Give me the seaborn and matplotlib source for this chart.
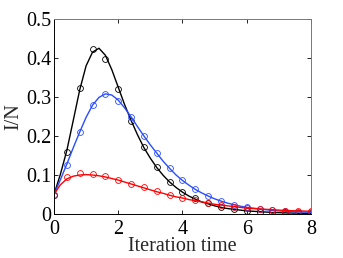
import numpy as np
import pandas as pd
import seaborn as sns
import matplotlib
matplotlib.use("Agg")
import matplotlib.pyplot as plt
from matplotlib.ticker import FuncFormatter

# simulation points (markers), every 0.4
t_sim = [0.0, 0.4, 0.8, 1.2, 1.6, 2.0, 2.4, 2.8, 3.2, 3.6, 4.0,
         4.4, 4.8, 5.2, 5.6, 6.0, 6.4, 6.8, 7.2, 7.6, 8.0]
black_sim = [0.05, 0.16, 0.322, 0.422, 0.398, 0.32, 0.239, 0.171, 0.12, 0.083, 0.056,
             0.041, 0.027, 0.019, 0.013, 0.009, 0.006, 0.005, 0.004, 0.003, 0.002]
blue_sim = [0.05, 0.126, 0.211, 0.279, 0.307, 0.291, 0.248, 0.2, 0.156, 0.117, 0.086,
            0.064, 0.047, 0.033, 0.024, 0.018, 0.013, 0.01, 0.008, 0.006, 0.005]
red_sim = [0.05, 0.096, 0.106, 0.103, 0.097, 0.087, 0.077, 0.068, 0.058, 0.048, 0.042,
           0.035, 0.029, 0.024, 0.019, 0.015, 0.013, 0.011, 0.009, 0.008, 0.007]

# model curves (lines), every 0.2
t_mod = [0.0, 0.2, 0.4, 0.6, 0.8, 1.0, 1.2, 1.4, 1.6, 1.8, 2.0,
         2.2, 2.4, 2.6, 2.8, 3.0, 3.2, 3.4, 3.6, 3.8, 4.0,
         4.2, 4.4, 4.6, 4.8, 5.0, 5.2, 5.4, 5.6, 5.8, 6.0,
         6.2, 6.4, 6.6, 6.8, 7.0, 7.2, 7.4, 7.6, 7.8, 8.0]
black_mod = [0.05, 0.102, 0.163, 0.24, 0.318, 0.38, 0.415, 0.425, 0.407, 0.37, 0.325,
             0.28, 0.24, 0.203, 0.17, 0.143, 0.119, 0.099, 0.082, 0.068, 0.056,
             0.046, 0.038, 0.031, 0.026, 0.021, 0.017, 0.014, 0.012, 0.010, 0.008,
             0.007, 0.006, 0.005, 0.004, 0.0035, 0.003, 0.0025, 0.002, 0.0018, 0.0015]
blue_mod = [0.05, 0.088, 0.128, 0.17, 0.21, 0.248, 0.279, 0.299, 0.308, 0.305, 0.292,
            0.272, 0.249, 0.224, 0.2, 0.177, 0.156, 0.135, 0.117, 0.1, 0.086,
            0.074, 0.063, 0.054, 0.046, 0.039, 0.033, 0.028, 0.024, 0.02, 0.017,
            0.015, 0.013, 0.011, 0.0095, 0.008, 0.007, 0.006, 0.0055, 0.005, 0.0045]
red_mod = [0.05, 0.075, 0.09, 0.097, 0.1, 0.101, 0.1, 0.098, 0.095, 0.091, 0.087,
           0.082, 0.077, 0.072, 0.067, 0.062, 0.057, 0.053, 0.048, 0.044, 0.041,
           0.037, 0.034, 0.031, 0.028, 0.025, 0.023, 0.021, 0.019, 0.017, 0.015,
           0.014, 0.013, 0.012, 0.011, 0.01, 0.009, 0.0085, 0.008, 0.0075, 0.007]

colors = {"black": "#000000", "blue": "#2a4dff", "red": "#ff0000"}

sns.set_theme(style="ticks")
plt.rcParams["font.family"] = ["Liberation Serif", "DejaVu Serif"]
plt.rcParams["xtick.direction"] = "in"
plt.rcParams["ytick.direction"] = "in"

fig = plt.figure(figsize=(3.43, 2.58), dpi=100)
ax = fig.add_axes([0.1574, 0.1705, 0.7493, 0.7559])

series = [("black", black_mod, black_sim), ("blue", blue_mod, blue_sim), ("red", red_mod, red_sim)]
for name, mod, sim in series:
    c = colors[name]
    sns.lineplot(x=t_mod, y=mod, ax=ax, color=c, linewidth=1.0, sort=False)
    sns.lineplot(x=t_sim, y=sim, ax=ax, color=c, linestyle="", marker="o",
                 markersize=4.2, markerfacecolor="none", markeredgecolor=c,
                 markeredgewidth=0.6, sort=False)

ax.set_xlim(0, 8)
ax.set_ylim(0, 0.5)
ax.set_xticks([0, 2, 4, 6, 8])
ax.set_yticks([0, 0.1, 0.2, 0.3, 0.4, 0.5])
ax.yaxis.set_major_formatter(FuncFormatter(lambda v, p: "%g" % round(v, 2)))
ax.tick_params(axis="both", which="both", direction="in", length=3, width=0.6,
               top=True, right=True, labelsize=14.5, colors="black")
ax.tick_params(axis="x", pad=4)
ax.tick_params(axis="y", pad=2)
for s in ax.spines.values():
    s.set_visible(True)
    s.set_linewidth(0.7)
    s.set_color("black")
ax.spines["top"].set_color("#777777")
ax.spines["right"].set_color("#777777")

ax.set_xlabel("Iteration time", fontsize=14.5, labelpad=-1)
ax.set_ylabel("I/N", fontsize=14.5, labelpad=2)

fig.savefig("out.png", dpi=100)
